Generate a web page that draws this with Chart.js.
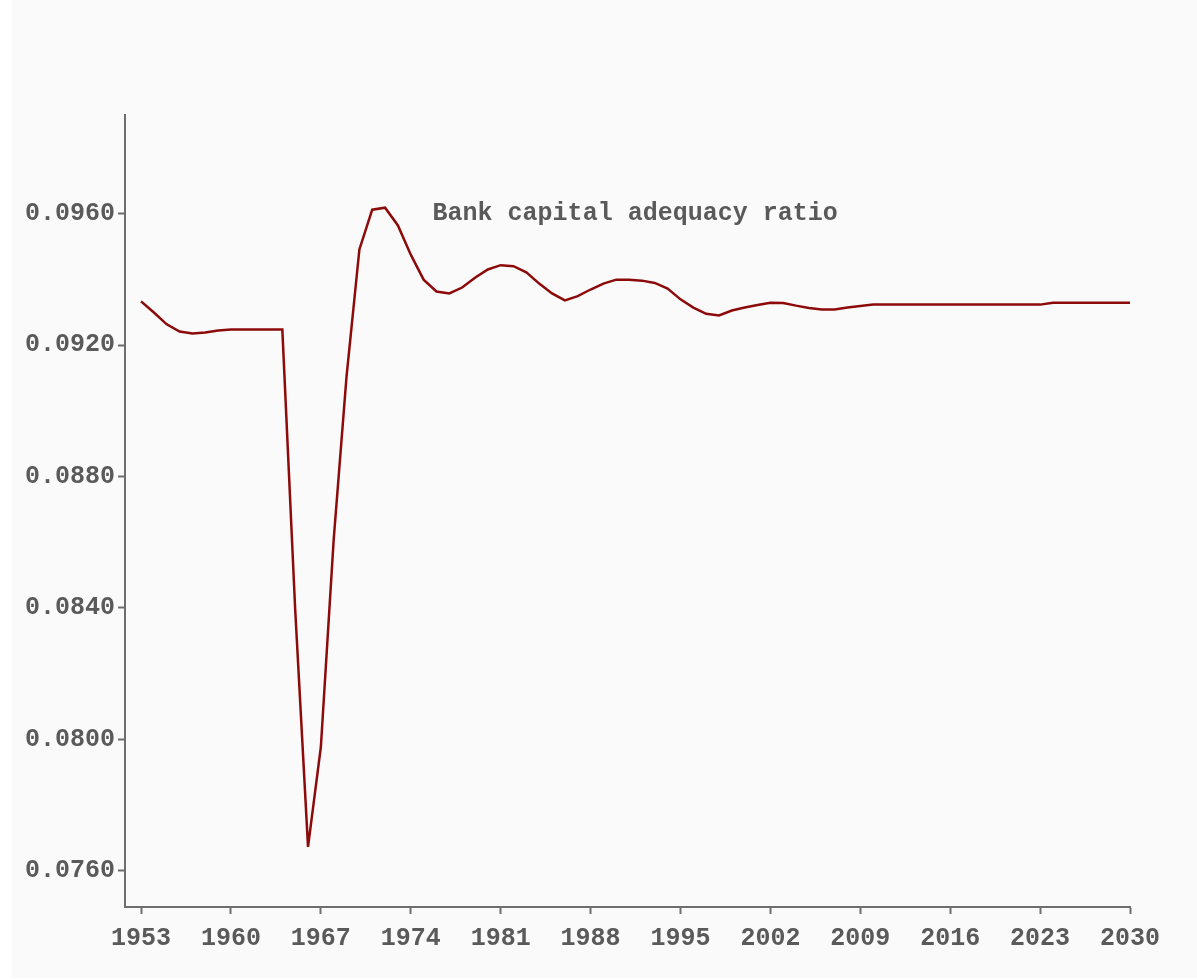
<!DOCTYPE html>
<html>
<head>
<meta charset="utf-8">
<script src="https://cdn.jsdelivr.net/npm/chart.js@4.4.1/dist/chart.umd.min.js"></script>
<style>
  html, body { margin: 0; padding: 0; background: #fff; }
</style>
</head>
<body>
<canvas id="chart" width="1197" height="979"></canvas>
<script>
// Years and values
const years = [];
for (let y = 1953; y <= 2030; y++) years.push(y);

const capitalRatio = [
    0.09333, 0.09299, 0.09263, 0.09241, 0.09235, 0.09238, 0.09244, 0.09247, // 1953-1960
    0.09247, 0.09247, 0.09247, 0.09247, 0.08396, 0.07673, 0.07977, 0.08609, // 1961-1968
    0.09105, 0.09491, 0.09612, 0.09618, 0.09564, 0.09475, 0.09399, 0.09363, // 1969-1976
    0.09357, 0.09375, 0.09405, 0.09430, 0.09443, 0.09440, 0.09421, 0.09387, // 1977-1984
    0.09357, 0.09336, 0.09349, 0.09369, 0.09387, 0.09399, 0.09399, 0.09396, // 1985-1992
    0.09389, 0.09372, 0.09339, 0.09314, 0.09295, 0.09290, 0.09305, 0.09314, // 1993-2000
    0.09322, 0.09329, 0.09328, 0.09320, 0.09313, 0.09308, 0.09308, 0.09314, // 2001-2008
    0.09319, 0.09323, 0.09323, 0.09323, 0.09323, 0.09323, 0.09323, 0.09323, // 2009-2016
    0.09323, 0.09323, 0.09323, 0.09323, 0.09323, 0.09323, 0.09323, 0.09329, // 2017-2024
    0.09329, 0.09329, 0.09329, 0.09329, 0.09329, 0.09329                    // 2025-2030
];

const xTicks = [1953, 1960, 1967, 1974, 1981, 1988, 1995, 2002, 2009, 2016, 2023, 2030];
const yTicks = [0.0760, 0.0800, 0.0840, 0.0880, 0.0920, 0.0960];
const seriesLabel = 'Bank capital adequacy ratio';

const fontFamily = '"Liberation Mono", "DejaVu Sans Mono", monospace';
const tickFont = { family: fontFamily, size: 25, weight: 'bold' };
const axisGrey = '#6e6e6e';
const textGrey = '#5a5a5a';

// Page background: thin white strip on the left, light grey elsewhere
const backgroundPlugin = {
    id: 'bg',
    beforeDraw(chart) {
        const ctx = chart.ctx;
        ctx.save();
        ctx.fillStyle = '#ffffff';
        ctx.fillRect(0, 0, chart.width, chart.height);
        ctx.fillStyle = '#fafafa';
        ctx.fillRect(12, 0, chart.width - 12, chart.height - 1);
        ctx.restore();
    }
};

// Series name written inside the plot, next to the peak
const seriesLabelPlugin = {
    id: 'seriesLabel',
    afterDraw(chart) {
        const ctx = chart.ctx;
        const x = chart.scales.x.getPixelForValue(1975.7);
        const y = chart.scales.y.getPixelForValue(0.0960);
        ctx.save();
        ctx.font = 'bold 25px ' + fontFamily;
        ctx.fillStyle = textGrey;
        ctx.textAlign = 'left';
        ctx.textBaseline = 'middle';
        ctx.fillText(seriesLabel, x, y);
        ctx.restore();
    }
};

const ctx = document.getElementById('chart').getContext('2d');
const chart = new Chart(ctx, {
    type: 'line',
    data: {
        datasets: [{
            label: seriesLabel,
            data: years.map((yr, i) => ({ x: yr, y: capitalRatio[i] })),
            borderColor: '#8c0a0a',
            borderWidth: 2.5,
            pointRadius: 0,
            tension: 0,
            fill: false
        }]
    },
    options: {
        responsive: false,
        animation: false,
        layout: {
            padding: { left: 0, top: 115, right: 67, bottom: 0 }
        },
        plugins: {
            legend: { display: false },
            tooltip: { enabled: false }
        },
        scales: {
            x: {
                type: 'linear',
                min: 1951.75,
                max: 2030,
                afterBuildTicks: scale => {
                    scale.ticks = xTicks.map(v => ({ value: v }));
                },
                afterFit: scale => { scale.height = 72; },
                grid: {
                    drawOnChartArea: false,
                    drawTicks: true,
                    tickLength: 7,
                    tickWidth: 2,
                    color: axisGrey
                },
                border: { display: true, color: axisGrey, width: 2 },
                ticks: {
                    autoSkip: false,
                    maxRotation: 0,
                    padding: 10,
                    color: textGrey,
                    font: tickFont,
                    callback: v => String(v)
                }
            },
            y: {
                min: 0.0749,
                max: 0.0990,
                afterBuildTicks: scale => {
                    scale.ticks = yTicks.map(v => ({ value: v }));
                },
                afterFit: scale => { scale.width = 125; },
                grid: {
                    drawOnChartArea: false,
                    drawTicks: true,
                    tickLength: 7,
                    tickWidth: 2,
                    color: axisGrey
                },
                border: { display: true, color: axisGrey, width: 2 },
                ticks: {
                    padding: 3,
                    color: textGrey,
                    font: tickFont,
                    callback: v => v.toFixed(4)
                }
            }
        }
    },
    plugins: [backgroundPlugin, seriesLabelPlugin]
});
</script>
</body>
</html>
